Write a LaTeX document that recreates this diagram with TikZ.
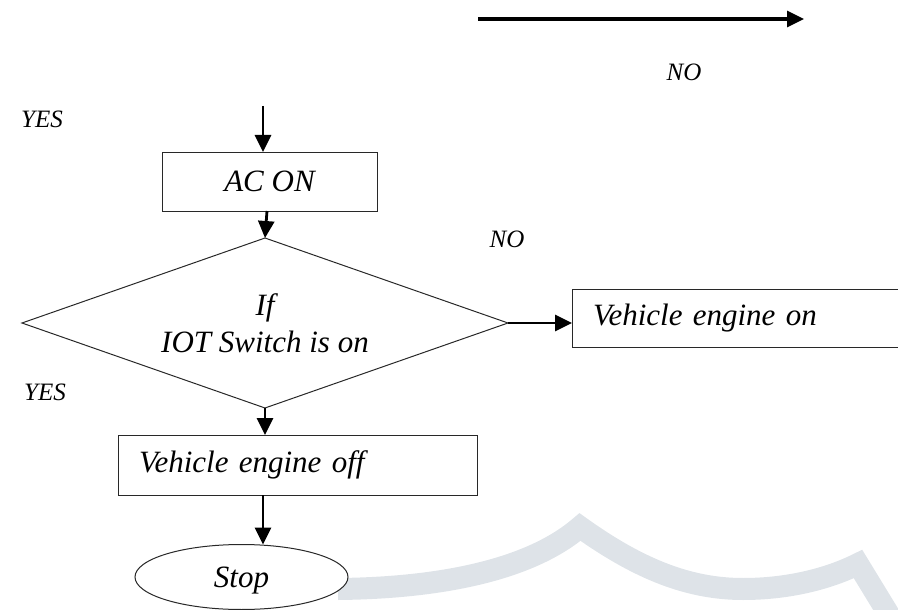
\documentclass[tikz,border=0pt]{standalone}
\usepackage{fontspec}
\setmainfont{Liberation Serif}
\usetikzlibrary{arrows.meta,shapes.geometric}
\definecolor{wmark}{RGB}{222,227,232}
\definecolor{edge}{RGB}{40,40,40}
\begin{document}
\begin{tikzpicture}[x=1pt,y=-1pt,
  every node/.style={font=\fontsize{31}{37}\selectfont\itshape, outer sep=0pt},
  box/.style={draw=edge, line width=1pt, rectangle, inner sep=0pt},
  lbl/.style={font=\fontsize{25}{30}\selectfont\itshape},
  flow/.style={line width=2.8pt, -{Triangle[length=17pt,width=16pt]}},
]
\useasboundingbox (0,0) rectangle (898,610);

% light scalloped band in the lower right
\draw[wmark, line width=22pt, line join=miter]
  (338,589) .. controls (440,588) and (530,570) .. (580,527)
  .. controls (640,570) and (690,589) .. (743,589)
  .. controls (790,589) and (830,578) .. (858,564) -- (905,641);

% flow chart shapes
\node[box, minimum width=215, minimum height=59] (acon) at (269.5,181.5) {AC ON};
\node[draw=edge, line width=1pt, diamond, aspect=2.86, minimum width=486,
      minimum height=170, inner sep=0pt, align=center] (cond) at (265,323)
      {If\\IOT Switch is on};
\node[box, anchor=west, minimum height=58, text width=293, inner xsep=21pt,
      align=left] (on) at (572,318) {Vehicle engine on};
\node[box, anchor=west, minimum height=60, text width=317, inner xsep=21pt,
      align=left] (off) at (118,465) {Vehicle engine off};
\node[draw=edge, line width=1pt, ellipse, fill=white, minimum width=213,
      minimum height=65, inner sep=0pt, text depth=0pt] (stop) at (241.5,577) {Stop};

% labels
\node[lbl] (no1) at (684,72) {NO};
\node[lbl] (yes1) at (42,119) {YES};
\node[lbl] (no2) at (507,239) {NO};
\node[lbl] (yes2) at (45,392) {YES};

% connectors
\coordinate (ta) at (478,19);
\coordinate (tb) at (804,19);
\coordinate (entry) at (263,106);
\coordinate (k) at (267,0);
\coordinate (spine) at (263,0);
\draw[flow, line width=3.2pt] (ta) -- (tb);
\draw[flow] (entry) -- (entry |- acon.north);
\draw[flow] (acon.south -| k) -- (cond.north);
\draw[flow] (cond.east) -- (cond.east -| on.west);
\draw[flow] (cond.south) -- (cond.south |- off.north);
\draw[flow] (off.south -| spine) -- (stop.north -| spine);
\end{tikzpicture}
\end{document}
